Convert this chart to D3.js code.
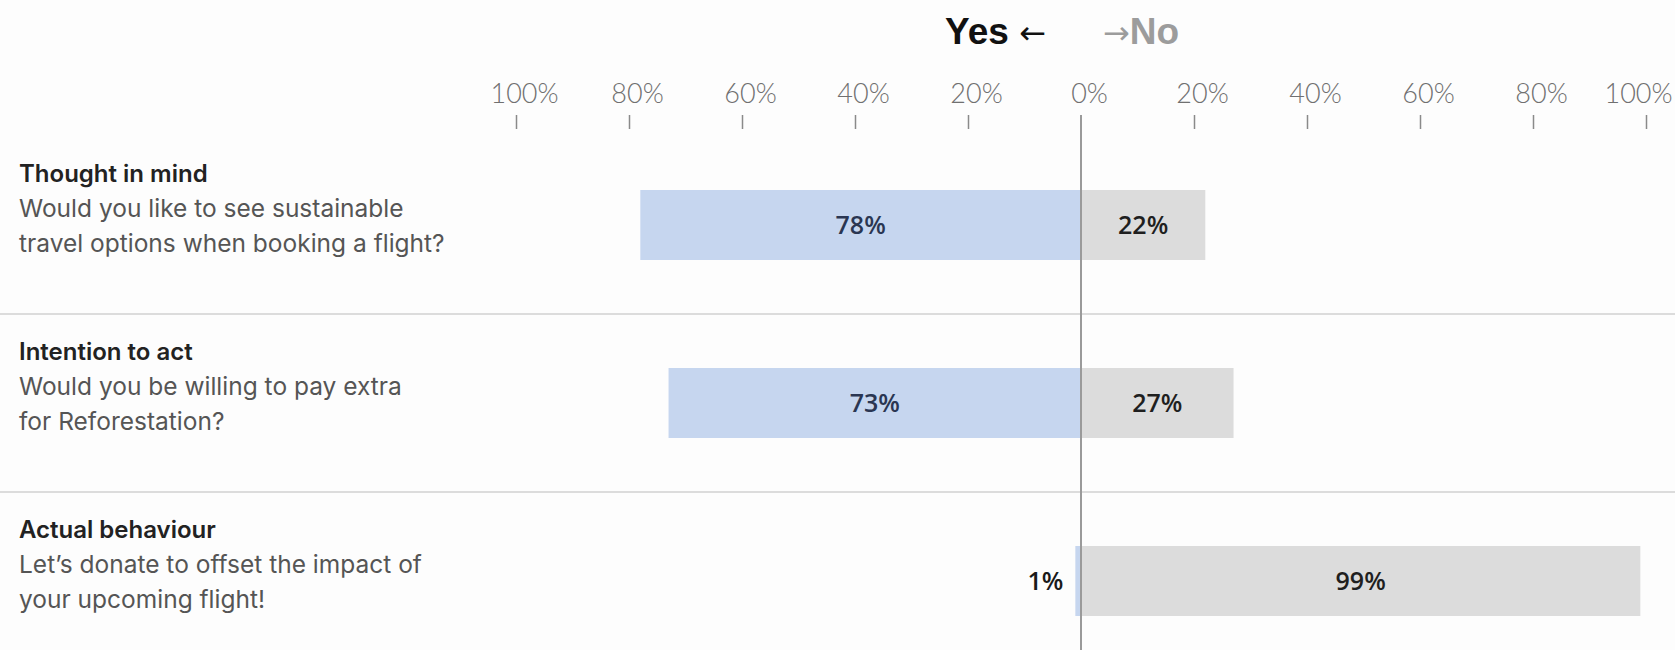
<!DOCTYPE html>
<html>
<head>
<meta charset="utf-8">
<script src="https://cdn.jsdelivr.net/npm/d3@7"></script>
<style>
  html, body { margin: 0; padding: 0; background: #fdfdfd; }
  svg { display: block; }
</style>
</head>
<body>
<div id="chart"></div>
<script>
// ── Data ──────────────────────────────────────────────────────────────
const rowTitles = ['Thought in mind', 'Intention to act', 'Actual behaviour'];
const rowQuestions = [
  ['Would you like to see sustainable', 'travel options when booking a flight?'],
  ['Would you be willing to pay extra', 'for Reforestation?'],
  ['Let\u2019s donate to offset the impact of', 'your upcoming flight!']
];
const yesValues = [78, 73, 1];
const noValues  = [22, 27, 99];
const tickValues = [-100, -80, -60, -40, -20, 0, 20, 40, 60, 80, 100];

const W = 1675, H = 650;

const svg = d3.select('#chart').append('svg')
  .attr('width', W).attr('height', H);

svg.append('rect').attr('width', W).attr('height', H).attr('fill', '#fdfdfd');

// Yes extends left (negative), No extends right
const x = d3.scaleLinear().domain([-100, 100]).range([516, 1646]);
const y = d3.scaleBand().domain(rowTitles).range([136, 670]).padding(0);
const barH = 70;

// ── Header ────────────────────────────────────────────────────────────
const hdrFont = 'Liberation Sans, Arial, sans-serif';
const yesT = svg.append('text')
  .attr('x', 1046).attr('y', 44)
  .attr('text-anchor', 'end')
  .attr('font-family', hdrFont)
  .attr('font-weight', 700).attr('font-size', 37)
  .attr('fill', '#111');
yesT.append('tspan').text('Yes ');
yesT.append('tspan').attr('font-family', 'DejaVu Sans').attr('font-weight', 400)
  .attr('font-size', 32).text('\u2190');

const noT = svg.append('text')
  .attr('x', 1103).attr('y', 44)
  .attr('font-family', hdrFont)
  .attr('font-weight', 700).attr('font-size', 37)
  .attr('fill', '#9c9c9c');
noT.append('tspan').attr('font-family', 'DejaVu Sans').attr('font-weight', 400)
  .attr('font-size', 32).text('\u2192');
noT.append('tspan').text('No');

// ── Row separators ────────────────────────────────────────────────────
svg.append('g').selectAll('line')
  .data(rowTitles.slice(1))
  .join('line')
    .attr('x1', 0).attr('x2', W)
    .attr('y1', d => y(d)).attr('y2', d => y(d))
    .attr('stroke', '#dcdcdc').attr('stroke-width', 2);

// ── Axis ──────────────────────────────────────────────────────────────
const axis = d3.axisTop(x)
  .tickValues(tickValues)
  .tickSize(14)
  .tickPadding(12)
  .tickFormat(d => Math.abs(d) + '%');

const axisG = svg.append('g')
  .attr('transform', 'translate(0,129)')
  .call(axis);

axisG.select('.domain').remove();
axisG.selectAll('.tick line')
  .attr('stroke', '#8a8a8a').attr('stroke-width', 1.5)
  .attr('opacity', d => d === 0 ? 0 : 1);
// last label would run off the page, so pin it to the right edge
axisG.selectAll('.tick text')
  .attr('text-anchor', d => d === 100 ? 'end' : 'middle')
  .attr('dx', d => d === 100 ? (W - 3 - x(100)) : 8)
  .attr('font-family', 'Lato, sans-serif')
  .attr('font-weight', 300)
  .attr('font-size', 27)
  .attr('fill', '#707070');

// ── Bars ──────────────────────────────────────────────────────────────
const rows = rowTitles.map((t, i) => ({ title: t, q: rowQuestions[i], yes: yesValues[i], no: noValues[i] }));

const barG = svg.append('g');

barG.selectAll('rect.yes')
  .data(rows)
  .join('rect')
    .attr('class', 'yes')
    .attr('x', d => x(-d.yes))
    .attr('width', d => x(0) - x(-d.yes))
    .attr('y', d => y(d.title) + (y.bandwidth() - barH) / 2)
    .attr('height', barH)
    .attr('fill', '#c6d6ef');

barG.selectAll('rect.no')
  .data(rows)
  .join('rect')
    .attr('class', 'no')
    .attr('x', x(0))
    .attr('width', d => x(d.no) - x(0))
    .attr('y', d => y(d.title) + (y.bandwidth() - barH) / 2)
    .attr('height', barH)
    .attr('fill', '#dcdcdc');

// value labels: centred in the bar, or outside when the bar is too thin
const lblFont = 'Open Sans, sans-serif';
barG.selectAll('text.yes')
  .data(rows)
  .join('text')
    .attr('class', 'yes')
    .attr('x', d => d.yes < 8 ? x(-d.yes) - 12 : (x(-d.yes) + x(0)) / 2)
    .attr('text-anchor', d => d.yes < 8 ? 'end' : 'middle')
    .attr('y', d => y(d.title) + y.bandwidth() / 2 + 9)
    .attr('font-family', lblFont).attr('font-weight', 600).attr('font-size', 25)
    .attr('fill', d => d.yes < 8 ? '#1a1a1a' : '#2a3652')
    .text(d => d.yes + '%');

barG.selectAll('text.no')
  .data(rows)
  .join('text')
    .attr('class', 'no')
    .attr('x', d => (x(d.no) + x(0)) / 2)
    .attr('text-anchor', 'middle')
    .attr('y', d => y(d.title) + y.bandwidth() / 2 + 9)
    .attr('font-family', lblFont).attr('font-weight', 600).attr('font-size', 25)
    .attr('fill', '#1f1f1f')
    .text(d => d.no + '%');

// ── Zero line ─────────────────────────────────────────────────────────
svg.append('line')
  .attr('x1', x(0)).attr('x2', x(0))
  .attr('y1', 115).attr('y2', H)
  .attr('stroke', '#9a9a9a').attr('stroke-width', 2);

// ── Row labels ────────────────────────────────────────────────────────
const lab = svg.append('g').selectAll('g')
  .data(rows)
  .join('g')
    .attr('transform', d => `translate(19,${y(d.title)})`);

lab.append('text')
  .attr('y', 46)
  .attr('font-family', 'Inter, sans-serif')
  .attr('font-weight', 600).attr('font-size', 24)
  .attr('fill', '#222')
  .text(d => d.title);

lab.each(function(d) {
  d3.select(this).selectAll('text.q')
    .data(d.q)
    .join('text')
      .attr('class', 'q')
      .attr('y', (s, i) => 81 + i * 35)
      .attr('font-family', 'Inter, sans-serif')
      .attr('font-weight', 400).attr('font-size', 24.5)
      .attr('fill', '#555')
      .text(s => s);
});
</script>
</body>
</html>
